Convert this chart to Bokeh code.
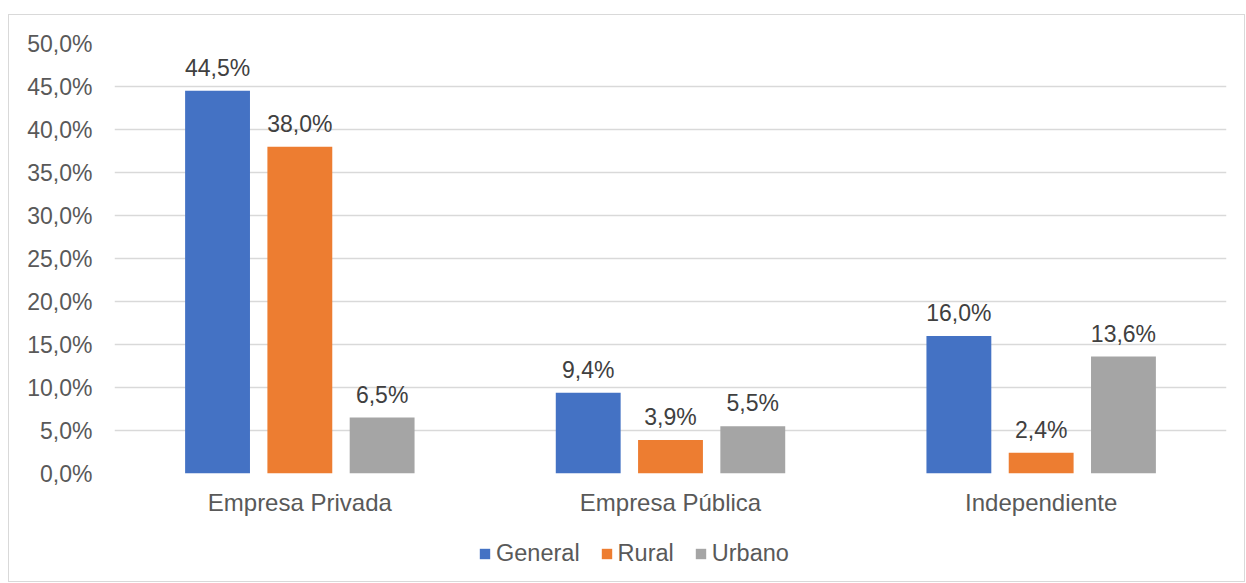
from bokeh.plotting import figure
from bokeh.layouts import column
from bokeh.models import ColumnDataSource, CustomJSTickFormatter, Legend, LegendItem, FactorRange
from bokeh.transform import dodge
from bokeh.core.properties import value
from bokeh.embed import file_html
from bokeh.resources import INLINE

categories = ["Empresa Privada", "Empresa Pública", "Independiente"]
general = [44.5, 9.4, 16.0]
rural = [38.0, 3.9, 2.4]
urbano = [6.5, 5.5, 13.6]
series_names = ["General", "Rural", "Urbano"]
colors = ["#4472C4", "#ED7D31", "#A5A5A5"]

def fmt(v):
    return ("%.1f" % v).replace(".", ",") + "%"

src = ColumnDataSource(dict(
    cat=categories,
    General=general, Rural=rural, Urbano=urbano,
    lab_General=[fmt(v) for v in general],
    lab_Rural=[fmt(v) for v in rural],
    lab_Urbano=[fmt(v) for v in urbano],
))

FONT = "Liberation Sans"
p = figure(x_range=FactorRange(*categories, range_padding=0), y_range=(0, 50),
           width=1235, height=505, output_backend="svg", toolbar_location=None,
           min_border_left=105, min_border_right=18, min_border_top=28, min_border_bottom=47)
p.outline_line_color = None
p.background_fill_color = "white"
p.border_fill_color = "white"

offsets = [-0.222, 0.0, 0.222]
for name, col, off in zip(series_names, colors, offsets):
    p.vbar(x=dodge("cat", off, range=p.x_range), top=name, width=0.175, source=src,
           fill_color=col, line_color=None)
    p.text(x=dodge("cat", off, range=p.x_range), y=name, text="lab_" + name, source=src,
           text_align="center", text_baseline="bottom", y_offset=-10,
           text_font=value(FONT), text_font_size="23px", text_color="#404040")

p.xgrid.grid_line_color = None
p.ygrid.grid_line_color = "#d9d9d9"
p.ygrid.grid_line_width = 1.5

p.yaxis.ticker = list(range(0, 55, 5))
p.yaxis.formatter = CustomJSTickFormatter(code="return tick.toFixed(1).replace('.', ',') + '%';")
for ax in (p.xaxis[0], p.yaxis[0]):
    ax.axis_line_color = None
    ax.major_tick_line_color = None
    ax.minor_tick_line_color = None
    ax.major_label_text_font = FONT
    ax.major_label_text_color = "#595959"
p.yaxis.major_label_text_font_size = "23px"
p.xaxis.major_label_text_font_size = "24px"
p.yaxis.major_label_standoff = 16
p.xaxis.major_label_standoff = 9

# legend strip below the chart (swatches come from bars outside its visible range)
leg = figure(x_range=FactorRange(*categories), y_range=(100, 101),
             width=1235, height=61, output_backend="svg", toolbar_location=None,
             x_axis_location=None, y_axis_location=None,
             min_border_left=0, min_border_right=0, min_border_top=0, min_border_bottom=0)
leg.outline_line_color = None
leg.xgrid.grid_line_color = None
leg.ygrid.grid_line_color = None
items = []
for name, col, off in zip(series_names, colors, offsets):
    r = leg.vbar(x=dodge("cat", off, range=leg.x_range), top=name, width=0.175, source=src,
                 fill_color=col, line_color=None)
    items.append(LegendItem(label=name, renderers=[r]))
legend = Legend(items=items, orientation="horizontal", location=(364, 14),
                label_text_font=FONT, label_text_font_size="23.5px", label_text_color="#595959",
                glyph_width=13, glyph_height=13, label_standoff=5, spacing=20,
                border_line_color=None, background_fill_alpha=0, margin=0, padding=4)
leg.add_layout(legend, "center")

layout = column(p, leg, spacing=0,
                styles={"border": "1.5px solid #d9d9d9", "margin-left": "8px", "margin-top": "14px"})

open("out.html", "w").write(file_html(layout, INLINE))
